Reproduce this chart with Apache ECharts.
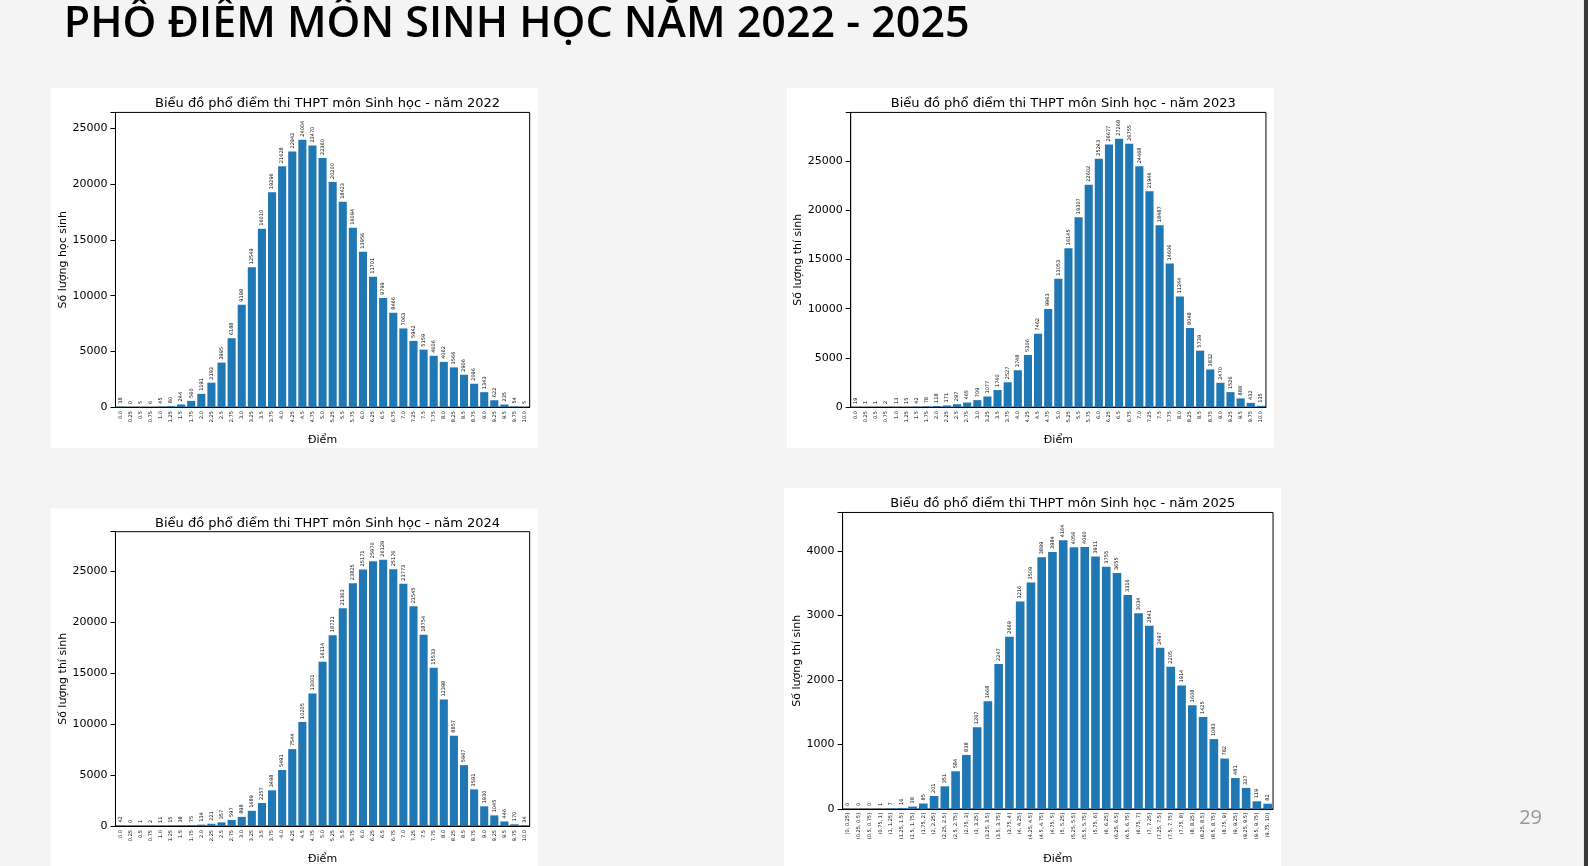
<!DOCTYPE html>
<html><head><meta charset="utf-8">
<script src="https://cdn.jsdelivr.net/npm/echarts@6/dist/echarts.min.js"></script>
<style>html,body{margin:0;padding:0;background:#f4f4f4;}#c{width:1588px;height:866px;}</style>
</head><body><div id="c"></div>
<script>
const v2022=[38,0,5,6,45,80,244,560,1191,2193,3995,6188,9198,12549,16010,19296,21628,22942,24004,23470,22360,20200,18423,16094,13956,11701,9799,8466,7063,5942,5159,4606,4062,3566,2906,2096,1343,622,235,54,5];
const v2023=[19,1,1,2,13,15,42,78,118,171,297,465,709,1077,1740,2527,3748,5306,7462,9963,13053,16145,19307,22602,25243,26677,27268,26755,24468,21946,18487,14606,11244,8048,5739,3832,2470,1526,888,432,135];
const v2024=[42,0,1,2,11,15,38,75,134,221,357,597,898,1489,2257,3498,5491,7544,10205,13001,16114,18721,21363,23825,25171,25970,26129,25176,23773,21545,18754,15533,12398,8857,5967,3591,1930,1045,446,170,34];
const v2025=[0,0,0,1,7,16,38,85,201,351,584,838,1267,1668,2247,2669,3216,3509,3899,3984,4164,4056,4060,3911,3755,3655,3316,3034,2841,2497,2205,1914,1608,1425,1083,782,481,327,119,82];
const catsPoint=["0.0","0.25","0.5","0.75","1.0","1.25","1.5","1.75","2.0","2.25","2.5","2.75","3.0","3.25","3.5","3.75","4.0","4.25","4.5","4.75","5.0","5.25","5.5","5.75","6.0","6.25","6.5","6.75","7.0","7.25","7.5","7.75","8.0","8.25","8.5","8.75","9.0","9.25","9.5","9.75","10.0"];
const catsBin=["[0, 0.25]","(0.25, 0.5]","(0.5, 0.75]","(0.75, 1]","(1, 1.25]","(1.25, 1.5]","(1.5, 1.75]","(1.75, 2]","(2, 2.25]","(2.25, 2.5]","(2.5, 2.75]","(2.75, 3]","(3, 3.25]","(3.25, 3.5]","(3.5, 3.75]","(3.75, 4]","(4, 4.25]","(4.25, 4.5]","(4.5, 4.75]","(4.75, 5]","(5, 5.25]","(5.25, 5.5]","(5.5, 5.75]","(5.75, 6]","(6, 6.25]","(6.25, 6.5]","(6.5, 6.75]","(6.75, 7]","(7, 7.25]","(7.25, 7.5]","(7.5, 7.75]","(7.75, 8]","(8, 8.25]","(8.25, 8.5]","(8.5, 8.75]","(8.75, 9]","(9, 9.25]","(9.25, 9.5]","(9.5, 9.75]","(9.75, 10]"];
const titles=["Biểu đồ phổ điểm thi THPT môn Sinh học - năm 2022","Biểu đồ phổ điểm thi THPT môn Sinh học - năm 2023","Biểu đồ phổ điểm thi THPT môn Sinh học - năm 2024","Biểu đồ phổ điểm thi THPT môn Sinh học - năm 2025"];
const yNames=["Số lượng học sinh","Số lượng thí sinh","Số lượng thí sinh","Số lượng thí sinh"];
const yMax=[26450,29950,28870,4595];
const yInt=[5000,5000,5000,1000];

const S=1588/1568;
const panels=[[50,87,481,355],[777,87,481,355],[50,502,481,353],[774,482,491,373]];
const grids=[[114,111,409,291],[840,111,410,291],[114,525,409,291],[832,506,425,302]];
const data=[v2022,v2023,v2024,v2025];
const cats=[catsPoint,catsPoint,catsPoint,catsBin];
const F='DejaVu Sans';
const chart=echarts.init(document.getElementById('c'));
const opt={animation:false,textStyle:{fontFamily:F},
 title:[],grid:[],xAxis:[],yAxis:[],series:[],
 graphic:[
  {type:'text',left:63*S,top:3,style:{text:'PHỔ ĐIỂM MÔN SINH HỌC NĂM 2022 - 2025',font:'600 43px "Open Sans"',fill:'#000',shadowColor:'rgba(0,0,0,0.45)',shadowBlur:3,shadowOffsetX:2,shadowOffsetY:2}},
  {type:'text',left:1500*S,top:798*S,style:{text:'29',font:'20px "Open Sans"',fill:'#999'}},
  {type:'rect',shape:{x:1564*S,y:0,width:10,height:866},style:{fill:'#3a3a3a'}}
 ]};
for(let i=0;i<4;i++){
 const p=panels[i].map(x=>x*S),g=grids[i].map(x=>x*S);
 opt.graphic.push({type:'rect',z:-1,shape:{x:p[0],y:p[1],width:p[2],height:p[3]},style:{fill:'#fff'}});
 opt.title.push({text:titles[i],left:g[0]+g[2]/2,top:g[1]-20,textAlign:'center',textStyle:{fontFamily:F,fontSize:13,fontWeight:'normal',color:'#000'}});
 opt.grid.push({left:g[0],top:g[1],width:g[2],height:g[3],show:true,borderColor:'#000',borderWidth:1});
 opt.xAxis.push({type:'category',gridIndex:i,data:cats[i],name:'Điểm',nameLocation:'middle',nameGap:i==3?45:28,nameTextStyle:{fontSize:11,color:'#000'},
  axisLine:{lineStyle:{color:'#000'}},axisTick:{alignWithLabel:true,interval:0,lineStyle:{color:'#000'}},
  axisLabel:{interval:0,rotate:90,fontSize:5,color:'#000',margin:4}});
 opt.yAxis.push({type:'value',gridIndex:i,min:0,max:yMax[i],interval:yInt[i],name:yNames[i],nameLocation:'middle',nameGap:i==3?36:44,nameTextStyle:{fontSize:11,color:'#000'},
  splitLine:{show:false},axisLine:{show:true,lineStyle:{color:'#000'}},axisTick:{show:true,lineStyle:{color:'#000'}},
  axisLabel:{fontSize:11,color:'#000',formatter:function(v){return v%yInt[i]!==0?'':v;}}});
 opt.series.push({type:'bar',xAxisIndex:i,yAxisIndex:i,data:data[i],barCategoryGap:'20%',itemStyle:{color:'#1f77b4'},
  label:{show:true,position:'top',rotate:90,align:'left',verticalAlign:'middle',distance:3,fontSize:5,color:'#000'}});
}
chart.setOption(opt);
</script></body></html>
